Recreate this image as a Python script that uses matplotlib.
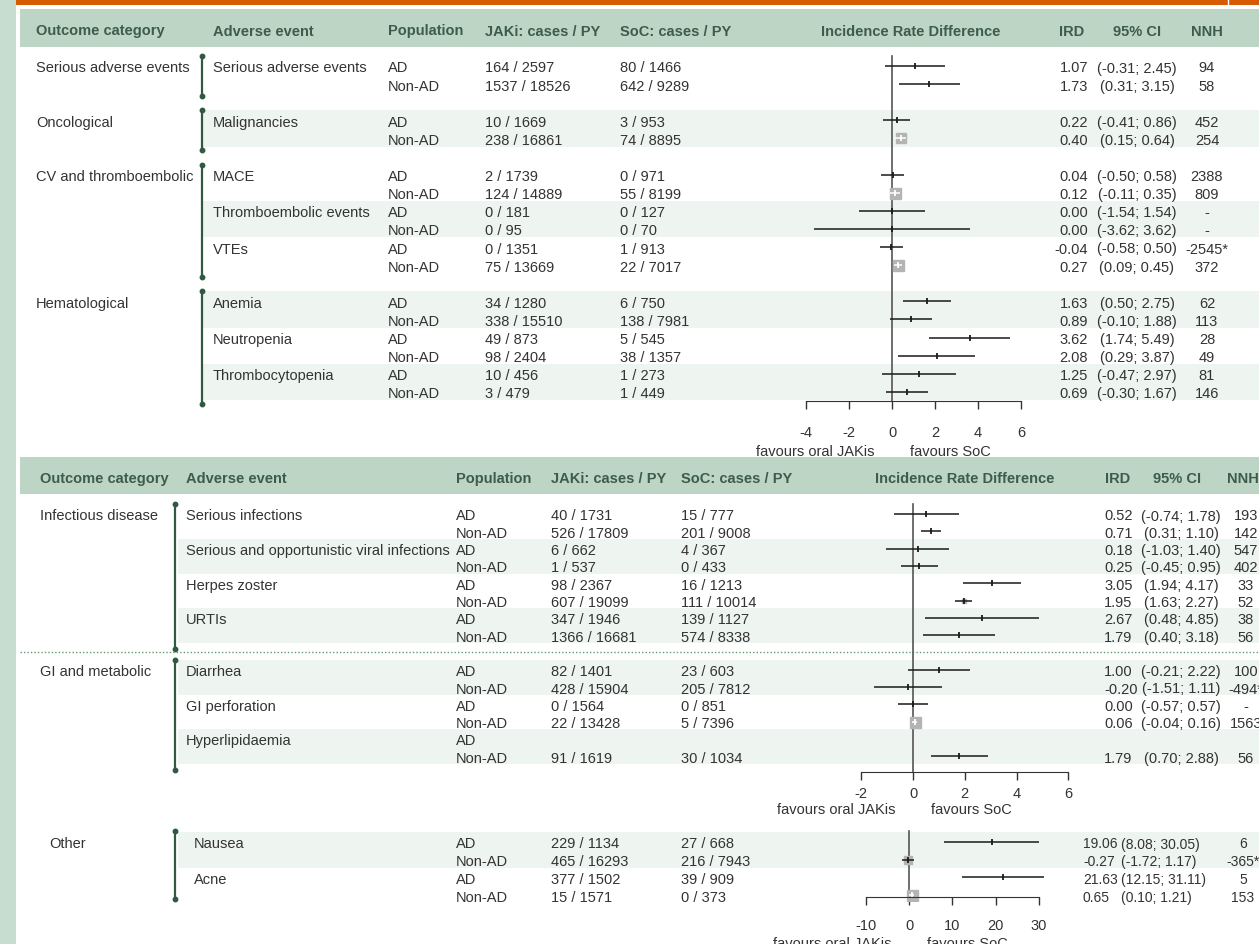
import matplotlib.pyplot as plt
from matplotlib.patches import Rectangle

plt.rcParams['font.family'] = ['Liberation Sans', 'DejaVu Sans']
plt.rcParams['axes.unicode_minus'] = False

W, H = 1259, 945

# ---------------- data ----------------
headers = ["Outcome category", "Adverse event", "Population", "JAKi: cases / PY",
           "SoC: cases / PY", "Incidence Rate Difference", "IRD", "95% CI", "NNH"]
pops = ["AD", "Non-AD"]

# part 1
p1_categories = ["Serious adverse events", "Oncological", "CV and thromboembolic", "Hematological"]
p1_events = [["Serious adverse events"], ["Malignancies"],
             ["MACE", "Thromboembolic events", "VTEs"],
             ["Anemia", "Neutropenia", "Thrombocytopenia"]]
p1_jaki = ["164 / 2597", "1537 / 18526", "10 / 1669", "238 / 16861", "2 / 1739", "124 / 14889",
           "0 / 181", "0 / 95", "0 / 1351", "75 / 13669", "34 / 1280", "338 / 15510",
           "49 / 873", "98 / 2404", "10 / 456", "3 / 479"]
p1_soc = ["80 / 1466", "642 / 9289", "3 / 953", "74 / 8895", "0 / 971", "55 / 8199",
          "0 / 127", "0 / 70", "1 / 913", "22 / 7017", "6 / 750", "138 / 7981",
          "5 / 545", "38 / 1357", "1 / 273", "1 / 449"]
p1_ird = [1.07, 1.73, 0.22, 0.40, 0.04, 0.12, 0.00, 0.00, -0.04, 0.27, 1.63, 0.89, 3.62, 2.08, 1.25, 0.69]
p1_lo = [-0.31, 0.31, -0.41, 0.15, -0.50, -0.11, -1.54, -3.62, -0.58, 0.09, 0.50, -0.10, 1.74, 0.29, -0.47, -0.30]
p1_hi = [2.45, 3.15, 0.86, 0.64, 0.58, 0.35, 1.54, 3.62, 0.50, 0.45, 2.75, 1.88, 5.49, 3.87, 2.97, 1.67]
p1_nnh = ["94", "58", "452", "254", "2388", "809", "-", "-", "-2545*", "372",
          "62", "113", "28", "49", "81", "146"]
p1_ticks = [-4, -2, 0, 2, 4, 6]

# part 2
p2_categories = ["Infectious disease", "GI and metabolic"]
p2_events = [["Serious infections", "Serious and opportunistic viral infections", "Herpes zoster", "URTIs"],
             ["Diarrhea", "GI perforation", "Hyperlipidaemia"]]
p2_jaki = ["40 / 1731", "526 / 17809", "6 / 662", "1 / 537", "98 / 2367", "607 / 19099",
           "347 / 1946", "1366 / 16681", "82 / 1401", "428 / 15904", "0 / 1564", "22 / 13428",
           "", "91 / 1619"]
p2_soc = ["15 / 777", "201 / 9008", "4 / 367", "0 / 433", "16 / 1213", "111 / 10014",
          "139 / 1127", "574 / 8338", "23 / 603", "205 / 7812", "0 / 851", "5 / 7396",
          "", "30 / 1034"]
p2_ird = [0.52, 0.71, 0.18, 0.25, 3.05, 1.95, 2.67, 1.79, 1.00, -0.20, 0.00, 0.06, None, 1.79]
p2_lo = [-0.74, 0.31, -1.03, -0.45, 1.94, 1.63, 0.48, 0.40, -0.21, -1.51, -0.57, -0.04, None, 0.70]
p2_hi = [1.78, 1.10, 1.40, 0.95, 4.17, 2.27, 4.85, 3.18, 2.22, 1.11, 0.57, 0.16, None, 2.88]
p2_nnh = ["193", "142", "547", "402", "33", "52", "38", "56", "100", "-494*", "-", "1563", "", "56"]
p2_ticks = [-2, 0, 2, 4, 6]

# part 3
p3_categories = ["Other"]
p3_events = [["Nausea", "Acne"]]
p3_jaki = ["229 / 1134", "465 / 16293", "377 / 1502", "15 / 1571"]
p3_soc = ["27 / 668", "216 / 7943", "39 / 909", "0 / 373"]
p3_ird = [19.06, -0.27, 21.63, 0.65]
p3_lo = [8.08, -1.72, 12.15, 0.10]
p3_hi = [30.05, 1.17, 31.11, 1.21]
p3_nnh = ["6", "-365*", "5", "153"]
p3_ticks = [-10, 0, 10, 20, 30]

# ---------------- style ----------------
TXT = '#333333'
HEAD_TXT = '#3e5c4b'
HEAD_BG = '#bcd5c5'
BAND = '#eef4f0'
STRIP = '#c6ddd0'
BRACKET = '#2f5a41'
FS = 10.5

fig = plt.figure(figsize=(W / 100, H / 100), dpi=100)
bg = fig.add_axes([0, 0, 1, 1])
bg.set_xlim(0, W)
bg.set_ylim(H, 0)
bg.axis('off')

bg.add_patch(Rectangle((0, 0), 16, H, color=STRIP, lw=0))
bg.add_patch(Rectangle((16, 0), W - 16, 5.5, color='#d65a00', lw=0))
bg.plot([1228, 1228], [0, 5.5], color='white', lw=1)


def put(x, y, s, ha='left', fs=FS, **kw):
    bg.text(x, y, s, ha=ha, va='center_baseline', fontsize=fs, color=kw.pop('color', TXT), **kw)


def fig_axes(x0, y0, x1, y1):
    return fig.add_axes([x0 / W, 1 - y1 / H, (x1 - x0) / W, (y1 - y0) / H])


def forest(ys, ird, lo, hi, ticks, F):
    zero, ppu = F['zero'], F['ppu']
    x0, x1 = zero - 150, zero + 160
    top, axis_y = F['top'], F['axis_y']
    ax = fig_axes(x0, top - 4, x1, axis_y + 4)
    ax.set_xlim((x0 - zero) / ppu, (x1 - zero) / ppu)
    ax.set_ylim(axis_y + 4, top - 4)
    ax.patch.set_alpha(0)
    for s in ['top', 'right', 'left']:
        ax.spines[s].set_visible(False)
    ax.spines['bottom'].set_position(('data', axis_y))
    ax.spines['bottom'].set_bounds(ticks[0], ticks[-1])
    ax.spines['bottom'].set_color('#333333')
    ax.set_yticks([])
    ax.set_xticks(ticks)
    ax.set_xticklabels([str(t) for t in ticks])
    ax.tick_params(axis='x', length=6, width=1, color='#333333', labelsize=FS,
                   labelcolor=TXT, pad=F['pad'])
    ax.plot([0, 0], [top, axis_y], color='#555555', lw=1.2)

    for y, m, l, h in zip(ys, ird, lo, hi):
        if m is None:
            continue
        # box size grows with precision (narrow CI), capped
        ci_px = (h - l) * ppu
        box = min(11, 1200 / ci_px ** 2)
        col = '#1a1a1a'
        if box >= 3:
            ax.plot(m, y, marker='s', ms=box * 0.72, color='#b4b4b4', mec='#b4b4b4', lw=0)
            if box >= ci_px * 0.9:
                col = 'white'
        ax.hlines(y, l, h, color=col, lw=1.1)
        ax.plot(m, y, marker='|', ms=5, mew=1.3, color=col)

    put(zero - 17, F['fav_y'], 'favours oral JAKis', ha='right')
    put(zero + 18, F['fav_y'], 'favours SoC')


def draw_panel(cats, events, jaki, soc, ird, lo, hi, nnh, ticks, L, F):
    if L.get('head'):
        h0, h1 = L['head']
        bg.add_patch(Rectangle((20, h0), W - 20, h1 - h0, color=HEAD_BG, lw=0))
        hy = (h0 + h1) / 2 + 1
        for name, (x, ha) in zip(headers, L['head_x']):
            put(x, hy, name, ha=ha, fontweight='bold', color=HEAD_TXT)

    dy = L['dy']
    ys = []
    k = 0
    ev = 0
    for ci, (c, grp) in enumerate(zip(cats, events)):
        first = L['y0'] + dy * k
        put(L['x_cat'], first, c)
        for e in grp:
            ya = L['y0'] + dy * k
            if L['shade'][ev]:
                bg.add_patch(Rectangle((L['x_band'], ya - 0.55 * dy), W - L['x_band'], 2 * dy,
                                       color=BAND, lw=0, zorder=0))
            put(L['x_ae'], ya, e)
            ys += [ya, ya + dy]
            k += 2
            ev += 1
        last = ys[-1]
        bt, bb = L['bracket']
        bg.plot([L['x_br'], L['x_br']], [first + bt, last + bb], color=BRACKET, lw=1.6,
                marker='o', ms=3.2, solid_capstyle='butt')
        if L.get('sep') and ci < len(cats) - 1:
            bg.plot([20, W], [last + 0.95 * dy] * 2, color='#5f9c72', lw=1, ls=(0, (1, 1.5)))
        k += 1

    c = L['cols']
    fs = L.get('fs_right', FS)
    for i, y in enumerate(ys):
        put(c['pop'], y, pops[i % 2])
        put(c['jaki'], y, jaki[i])
        put(c['soc'], y, soc[i])
        if ird[i] is not None:
            put(c['ird'][0], y, '%.2f' % ird[i], ha=c['ird'][1], fs=fs)
            put(c['ci'][0], y, '(%.2f; %.2f)' % (lo[i], hi[i]), ha=c['ci'][1], fs=fs)
            put(c['nnh'], y, nnh[i], ha='center', fs=fs)

    forest(ys, ird, lo, hi, ticks, F)


layout1 = dict(head=(10, 48), y0=67, dy=18.1, x_cat=36, x_ae=213, x_br=202, x_band=203,
               bracket=(-10, 12), shade=[False, True, False, True, False, True, False, True],
               head_x=[(36, 'left'), (213, 'left'), (388, 'left'), (485, 'left'), (620, 'left'),
                       (821, 'left'), (1059, 'left'), (1137, 'center'), (1207, 'center')],
               cols=dict(pop=388, jaki=485, soc=620, ird=(1088, 'right'), ci=(1137, 'center'), nnh=1207))
forest1 = dict(zero=892, ppu=21.5, top=57, axis_y=402, pad=11.5, fav_y=450)

layout2 = dict(head=(458, 495), y0=515, dy=17.3, x_cat=40, x_ae=186, x_br=175, x_band=178,
               bracket=(-10, 14), shade=[False, True, False, True, True, False, True], sep=True,
               head_x=[(40, 'left'), (186, 'left'), (456, 'left'), (551, 'left'), (681, 'left'),
                       (875, 'left'), (1105, 'left'), (1177, 'center'), (1227, 'left')],
               cols=dict(pop=456, jaki=551, soc=681, ird=(1104, 'left'), ci=(1181, 'center'), nnh=1246))
forest2 = dict(zero=913, ppu=25.9, top=505, axis_y=773, pad=4, fav_y=808)

layout3 = dict(y0=843, dy=17.7, x_cat=49, x_ae=194, x_br=175, x_band=178,
               bracket=(-11, 4), shade=[True, False],
               cols=dict(pop=456, jaki=551, soc=681, ird=(1083, 'left'), ci=(1121, 'left'), nnh=1243),
               fs_right=10)
forest3 = dict(zero=909, ppu=4.33, top=832, axis_y=898, pad=9, fav_y=943)

draw_panel(p1_categories, p1_events, p1_jaki, p1_soc, p1_ird, p1_lo, p1_hi, p1_nnh, p1_ticks, layout1, forest1)
draw_panel(p2_categories, p2_events, p2_jaki, p2_soc, p2_ird, p2_lo, p2_hi, p2_nnh, p2_ticks, layout2, forest2)
draw_panel(p3_categories, p3_events, p3_jaki, p3_soc, p3_ird, p3_lo, p3_hi, p3_nnh, p3_ticks, layout3, forest3)

fig.savefig('out.png', dpi=100)
